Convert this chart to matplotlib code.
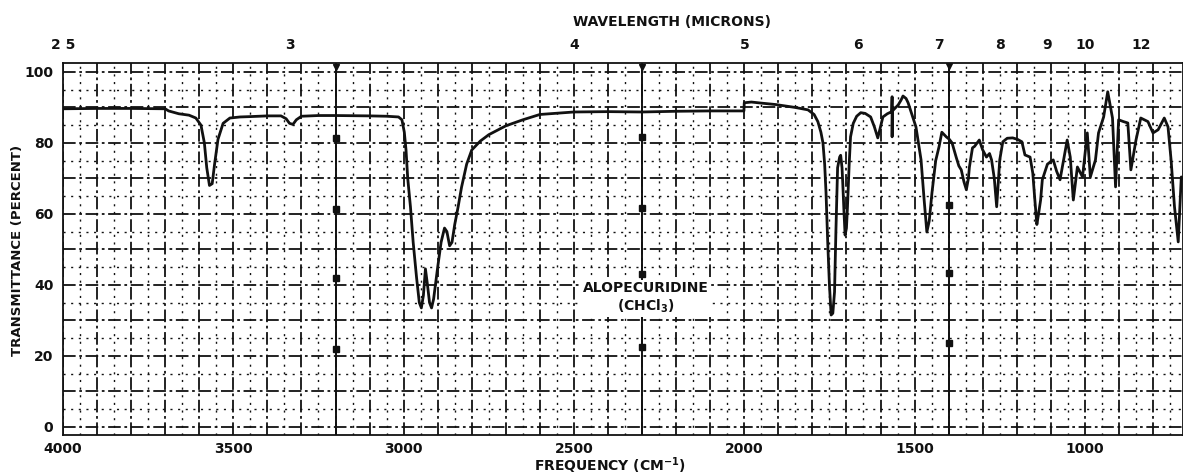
import matplotlib
matplotlib.use("Agg")
import matplotlib.pyplot as plt
import numpy as np

# Infrared spectrum of alopecuridine in chloroform
wavenumber_high = [4000, 3900, 3800, 3700, 3690, 3660, 3630, 3610, 3595, 3585, 3578, 3570,
                   3562, 3555, 3545, 3530, 3510, 3480, 3450, 3400, 3360, 3345, 3335, 3325,
                   3315, 3300, 3250, 3200, 3100, 3050, 3015, 3005, 2998, 2993, 2988, 2980,
                   2972, 2962, 2954, 2948, 2942, 2936, 2930, 2924, 2918, 2912, 2900, 2890,
                   2880, 2873, 2865, 2858, 2850, 2840, 2830, 2815, 2800, 2775, 2750, 2700,
                   2650, 2600, 2500, 2400, 2300, 2200, 2100, 2001]
transmittance_high = [89.6, 89.7, 89.7, 89.6, 89.0, 88.2, 87.8, 87.0, 85.0, 80.0, 73.0, 68.0,
                      68.5, 74.0, 81.0, 85.5, 87.0, 87.3, 87.4, 87.6, 87.6, 86.8, 85.5, 85.2,
                      86.5, 87.5, 87.7, 87.7, 87.6, 87.5, 87.3, 86.5, 83.0, 78.0, 70.0, 62.0,
                      52.0, 42.0, 35.0, 33.5, 37.0, 44.5, 40.0, 35.0, 33.5, 36.0, 45.0, 52.0,
                      56.0, 55.0, 51.0, 52.0, 57.0, 62.0, 67.5, 74.0, 78.0, 80.5, 82.3, 84.8,
                      86.5, 88.0, 88.7, 88.8, 88.7, 88.9, 89.0, 89.0]

wavenumber_low = [2000, 1979, 1950, 1908, 1880, 1852, 1813, 1795, 1784, 1775, 1769, 1764,
                  1760, 1755, 1750, 1745, 1740, 1735, 1731, 1726, 1720, 1717, 1713, 1711,
                  1707, 1704, 1700, 1697, 1692, 1688, 1680, 1670, 1658, 1645, 1629, 1618,
                  1608, 1600, 1593, 1580, 1569, 1567, 1566, 1566, 1565, 1548, 1540, 1534,
                  1525, 1519, 1508, 1496, 1481, 1472, 1464, 1457, 1449, 1438, 1428, 1420,
                  1407, 1398, 1390, 1378, 1370, 1363, 1355, 1348, 1342, 1339, 1330, 1324,
                  1310, 1300, 1289, 1280, 1274, 1266, 1259, 1255, 1250, 1241, 1228, 1212,
                  1198, 1185, 1176, 1161, 1153, 1147, 1141, 1136, 1130, 1125, 1110, 1093,
                  1083, 1073, 1052, 1043, 1034, 1022, 1007, 993, 984, 969, 960, 945, 933,
                  919, 910, 901, 887, 874, 865, 850, 836, 815, 800, 785, 767, 756, 747,
                  737, 726, 717, 712]
transmittance_low = [91.3, 91.5, 91.2, 90.8, 90.4, 90.0, 89.3, 88.0, 86.0, 83.0, 80.0, 74.0,
                     66.0, 52.0, 40.0, 31.5, 32.0, 38.0, 55.0, 73.0, 76.0, 76.5, 73.0, 69.0,
                     60.0, 54.0, 56.0, 62.0, 74.0, 81.7, 85.5, 87.5, 88.5, 88.3, 87.3, 84.5,
                     81.4, 84.5, 87.3, 88.2, 88.7, 88.8, 93.0, 81.7, 89.0, 90.7, 92.0, 93.2,
                     92.5, 91.3, 88.0, 84.5, 75.2, 64.0, 54.9, 58.0, 65.9, 75.0, 79.0, 83.0,
                     81.7, 81.0, 80.0, 76.0, 73.5, 72.4, 69.0, 66.8, 70.0, 73.2, 78.6, 79.0,
                     80.8, 78.0, 76.0, 77.0, 75.2, 70.0, 62.0, 68.0, 75.2, 80.3, 81.3, 81.4,
                     81.0, 80.3, 76.6, 76.0, 71.5, 64.0, 57.0, 60.0, 63.9, 69.6, 74.0, 75.2,
                     72.0, 69.6, 80.8, 76.0, 63.9, 73.2, 70.4, 82.8, 70.4, 75.2, 82.8, 87.3, 94.4,
                     87.0, 67.6, 86.5, 86.0, 85.6, 72.4, 80.8, 87.0, 86.0, 82.8, 83.7, 87.0, 84.5, 75.2,
                     62.0, 52.1, 70.4, 70.0]

# Pen calibration marks on the chart paper
cal_wavenumbers = [3200, 2300, 1400]
cal_levels = [[101.4, 81.4, 61.4, 42.0, 22.0],
              [101.4, 81.7, 61.7, 43.0, 22.5],
              [101.7, 62.5, 43.4, 23.7]]

freq_ticks = [4000, 3500, 3000, 2500, 2000, 1500, 1000]
freq_labels = ["4000", "3500", "3000", "2500", "2000", "1500", "1000"]
pct_ticks = [0, 20, 40, 60, 80, 100]
micron_ticks = [2.5, 3, 4, 5, 6, 7, 8, 9, 10, 12]
micron_labels = ["2 5", "3", "4", "5", "6", "7", "8", "9", "10", "12"]

W, H = 1183, 476
fig = plt.figure(figsize=(W / 100, H / 100), dpi=100)
fig.patch.set_facecolor("white")
left, right, top, bottom = 63, 1183, 63, 435
ax = fig.add_axes([left / W, 1 - bottom / H, (right - left) / W, (bottom - top) / H])
ax.set_xlim(4000, 712)
ax.set_ylim(-2.3, 102.5)

ink = "#111111"
font = dict(family="DejaVu Sans", weight="bold")

# chart-paper grid
for v in np.arange(4000, 700, -100):
    ax.axvline(v, color=ink, lw=1.3, ls=(0, (7, 2, 1.5, 2)), zorder=1)
for v in np.arange(3950, 700, -100):
    ax.axvline(v, color=ink, lw=1.0, ls=(0, (1.5, 4)), zorder=1)
for t in np.arange(0, 101, 10):
    ax.axhline(t, color=ink, lw=1.3, ls=(0, (7, 2, 1.5, 2)), zorder=1)
for t in np.arange(5, 100, 10):
    ax.axhline(t, color=ink, lw=1.0, ls=(0, (1.5, 4)), zorder=1)

# calibration marks
for wn, levels in zip(cal_wavenumbers, cal_levels):
    ax.plot([wn, wn], [-2.3, max(levels)], color=ink, lw=1.4, zorder=2)
    ax.plot([wn], [levels[0]], marker="v", color=ink, ms=5, zorder=3)
    ax.plot([wn] * (len(levels) - 1), levels[1:], ls="none", marker="s", color=ink, ms=4, zorder=3)

# spectrum trace
ax.plot(wavenumber_high + wavenumber_low, transmittance_high + transmittance_low,
        color=ink, lw=2.0, solid_joinstyle="round", zorder=4)

ax.text(2290, 36.3, "ALOPECURIDINE\n(CHCl$_\\mathbf{3}$)", ha="center", va="center",
        fontsize=10, linespacing=1.2, color=ink, zorder=5,
        bbox=dict(facecolor="white", edgecolor="none", pad=1.5), **font)

for s in ax.spines.values():
    s.set_color(ink)
    s.set_linewidth(1.3)

ax.set_xticks(freq_ticks)
ax.set_xticklabels(freq_labels, **font)
ax.set_yticks(pct_ticks)
ax.set_yticklabels([str(p) for p in pct_ticks], **font)
ax.tick_params(axis="both", length=0, labelsize=10, colors=ink)
ax.tick_params(axis="x", pad=5)
ax.tick_params(axis="y", pad=7)

# wavelength scale along the top
top_ax = ax.twiny()
top_ax.set_xlim(ax.get_xlim())
top_ax.set_xticks([1e4 / m for m in micron_ticks])
top_ax.set_xticklabels(micron_labels, **font)
top_ax.tick_params(axis="x", length=0, labelsize=10, pad=8, colors=ink)
for s in top_ax.spines.values():
    s.set_visible(False)

fig.text(672 / W, 1 - 22 / H, "WAVELENGTH (MICRONS)", ha="center", va="center",
         fontsize=10, color=ink, **font)
fig.text(610 / W, 1 - 466 / H, "FREQUENCY (CM$^{\\mathbf{-1}}$)", ha="center", va="center",
         fontsize=10, color=ink, **font)
fig.text(18 / W, 1 - 250 / H, "TRANSMITTANCE (PERCENT)", ha="center", va="center",
         rotation=90, fontsize=9.5, color=ink, **font)

fig.savefig("out.png", dpi=100, facecolor="white")
